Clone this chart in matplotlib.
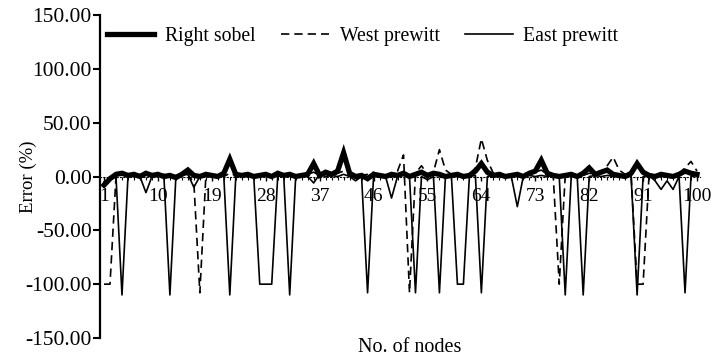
import matplotlib
matplotlib.use("Agg")
import matplotlib.pyplot as plt
import numpy as np

plt.rcParams['font.family'] = ['Liberation Serif', 'DejaVu Serif']
plt.rcParams['axes.unicode_minus'] = False

nodes = list(range(1, 101))

right_sobel = [-8, -2, 2, 3, 1, 2, 0, 3, 1, 2,
               0, 1, -1, 2, 6, 1, 0, 2, 1, 0,
               3, 16, 2, 1, 2, 0, 1, 2, 0, 3,
               1, 2, 0, 1, 2, 12, 1, 4, 2, 5,
               22, 3, 0, 1, -2, 2, 1, 0, 2, 1,
               3, 0, 2, 4, 1, 3, 2, 0, 1, 2,
               0, 1, 5, 12, 4, 1, 2, 0, 1, 2,
               0, 3, 5, 15, 3, 1, 0, 1, 2, 0,
               3, 8, 2, 4, 6, 2, 1, 0, 3, 12,
               4, 1, 0, 2, 1, 0, 2, 5, 3, 2]

west_prewitt = [-100, -100, 0, 2, 1, 0, 2, 1, 0, 1,
                2, 0, 1, 3, 2, -6, -108, 0, 1, 2,
                0, 3, 1, 0, 2, 1, 0, 2, 1, 0,
                2, 1, 0, 1, 2, 4, 1, 2, 0, 3,
                5, 2, 0, 1, 2, 4, 1, 0, 2, 5,
                20, -108, 3, 10, 2, 4, 25, 6, 2, 1,
                0, 2, 8, 35, 15, 3, 1, 0, 2, 1,
                3, 2, 4, 6, 2, 0, -100, 1, 2, 0,
                1, 3, 2, 5, 10, 18, 6, 2, 1, -100,
                -100, 2, 1, 0, 2, 1, 3, 8, 14, 5]

east_prewitt = [-5, -3, 0, -110, 0, 1, 0, -15, 0, 1,
                0, -110, 0, 1, 2, -10, 0, 1, 0, 1,
                0, -110, 0, 1, 0, 0, -100, -100, -100, 0,
                1, -110, 0, 1, 0, -6, 2, 0, 1, 0,
                2, 0, -4, 0, -108, 0, 1, 0, -20, 0,
                1, 0, -108, 0, -3, 0, -108, 0, 0, -100,
                -100, 0, 1, -108, 0, 1, 0, 1, 0, -28,
                0, 1, 0, 1, 0, 1, 0, -110, 0, 0,
                -110, 0, 1, 0, 1, 0, 1, 0, 0, -110,
                0, 1, -4, -12, -4, -12, 0, -108, 0, 1]

series_names = ["Right sobel", "West prewitt", "East prewitt"]
x_ticks = [1, 10, 19, 28, 37, 46, 55, 64, 73, 82, 91, 100]
y_ticks = [-150, -100, -50, 0, 50, 100, 150]

W, H = 717, 360
fig = plt.figure(figsize=(W / 100, H / 100), dpi=100)
ax = fig.add_axes([100 / W, 1 - 338 / H, 600 / W, 323 / H])

ax.plot(nodes, right_sobel, color='black', lw=3.8, solid_joinstyle='miter',
        label=series_names[0])
ax.plot(nodes, west_prewitt, color='black', lw=1.2, dashes=(5, 3),
        label=series_names[1])
ax.plot(nodes, east_prewitt, color='black', lw=1.2, label=series_names[2])

ax.set_xlim(0.33, 100.5)
ax.set_ylim(-150, 150)

ax.spines['top'].set_visible(False)
ax.spines['right'].set_visible(False)
ax.spines['bottom'].set_position(('data', 0))
ax.spines['bottom'].set_linewidth(0.8)
ax.spines['bottom'].set_linestyle((0, (1, 2)))
ax.spines['left'].set_linewidth(1.6)

ax.set_yticks(y_ticks)
ax.set_yticklabels([f"{v:.2f}" for v in y_ticks], fontsize=15.5)
ax.tick_params(axis='y', direction='out', length=5, width=1.5, pad=1)

ax.set_xticks(x_ticks)
ax.set_xticklabels([str(v) for v in x_ticks], fontsize=14)
ax.set_xticks(nodes, minor=True)
ax.tick_params(axis='x', which='major', direction='out', length=3, width=1.0, pad=5)
ax.tick_params(axis='x', which='minor', direction='out', length=2, width=0.8)

fig.text(28 / W, 1 - 177 / H, "Error (%)", fontsize=13.5, rotation=90,
         ha='center', va='center')
fig.text(410 / W, 1 - 348 / H, "No. of nodes", fontsize=14.5, ha='center', va='center')

leg = ax.legend(loc='center left', bbox_to_anchor=(107 / W, 1 - 36 / H),
                bbox_transform=fig.transFigure, ncol=3, frameon=False,
                fontsize=14.2, handlelength=2.4, handletextpad=0.55,
                columnspacing=1.3, borderpad=0, borderaxespad=0)

fig.savefig("out.png", dpi=100)
